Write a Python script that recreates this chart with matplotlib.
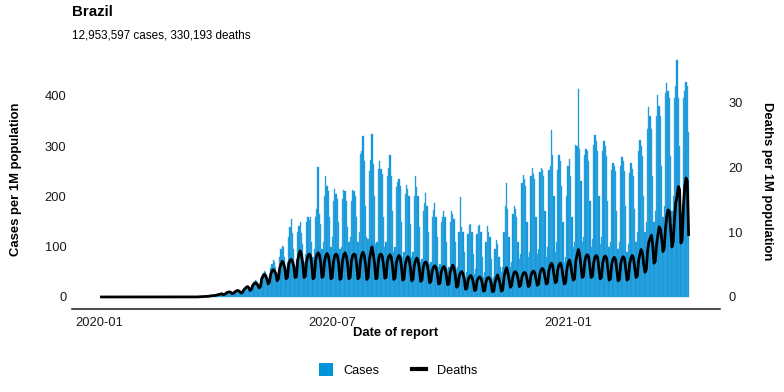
import matplotlib
matplotlib.use("Agg")
import matplotlib.pyplot as plt
import matplotlib.dates as mdates
from matplotlib.patches import Patch
from matplotlib.lines import Line2D
import pandas as pd

plt.rcParams['font.family'] = ['Liberation Sans', 'DejaVu Sans']

# daily values per 1M population, 2020-01-03 .. 2021-04-05
start_date = '2020-01-03'
lead_zeros = 60  # 2020-01-03 .. 2020-03-02

# one row per week (from 2020-03-03)
cases_weeks = [
    0, 0, 0, 0, 0.01, 0.01, 0.02,
    0.02, 0.05, 0.1, 0.15, 0.2, 0.3, 0.4,
    0.3, 0.5, 0.8, 1.0, 1.3, 1.5, 1.2,
    1.1, 1.0, 1.6, 1.9, 2.2, 2.4, 2.0,
    1.5, 1.6, 3.8, 4.5, 5.2, 5.0, 4.3,
    3.0, 3.5, 6.0, 7.5, 8.4, 7.0, 5.5,
    4.8, 5.5, 9.0, 12, 14, 11.5, 9.0,
    7, 8, 14, 16.5, 19, 16, 14,
    11, 14, 24, 30, 34, 32, 26,
    20, 22, 40, 46, 52, 50, 44,
    30, 35, 58, 66, 73, 70, 60,
    38, 52, 80, 96, 102, 100, 80,
    55, 70, 120, 140, 156, 128, 95,
    60, 75, 130, 141, 150, 128, 105,
    70, 85, 150, 160, 154, 160, 110,
    80, 95, 160, 175, 258, 165, 145,
    95, 110, 200, 240, 220, 210, 160,
    100, 120, 190, 215, 205, 195, 150,
    95, 100, 195, 213, 210, 190, 140,
    110, 120, 190, 213, 210, 200, 160,
    110, 130, 285, 290, 320, 270, 180,
    120, 115, 250, 273, 324, 265, 200,
    105, 110, 255, 270, 255, 245, 160,
    100, 110, 240, 257, 282, 240, 170,
    90, 100, 218, 228, 235, 220, 150,
    80, 90, 205, 222, 215, 200, 145,
    80, 90, 200, 241, 219, 200, 140,
    70, 75, 170, 186, 206, 180, 130,
    65, 70, 160, 173, 186, 160, 120,
    60, 65, 150, 160, 170, 160, 110,
    55, 60, 150, 170, 165, 155, 110,
    55, 60, 130, 198, 140, 130, 90,
    40, 50, 125, 143, 145, 130, 85,
    45, 55, 125, 141, 143, 130, 80,
    40, 50, 110, 141, 130, 120, 75,
    35, 40, 95, 113, 105, 80, 60,
    50, 60, 130, 180, 227, 175, 120,
    60, 70, 166, 180, 175, 160, 110,
    75, 85, 226, 243, 235, 220, 150,
    80, 90, 240, 256, 245, 235, 160,
    85, 95, 249, 256, 252, 240, 170,
    80, 100, 252, 260, 332, 282, 200,
    90, 110, 252, 282, 270, 220, 150,
    70, 80, 200, 260, 275, 240, 160,
    100, 110, 302, 300, 413, 295, 230,
    110, 120, 282, 295, 290, 270, 190,
    100, 115, 302, 322, 310, 290, 200,
    105, 120, 290, 310, 300, 280, 190,
    100, 110, 253, 266, 260, 250, 170,
    95, 110, 260, 279, 270, 250, 180,
    90, 105, 246, 266, 255, 240, 175,
    110, 130, 290, 312, 300, 280, 200,
    130, 150, 335, 378, 360, 335, 240,
    150, 170, 360, 402, 380, 360, 260,
    160, 180, 405, 425, 410, 395, 280,
    170, 200, 395, 420, 471, 395, 300,
    160, 170, 395, 410, 428, 420, 329,
]

deaths_weeks = [
    0, 0, 0, 0, 0, 0, 0,
    0, 0, 0, 0, 0, 0, 0.005,
    0.005, 0.01, 0.02, 0.03, 0.04, 0.05, 0.07,
    0.06, 0.08, 0.1, 0.12, 0.15, 0.2, 0.22,
    0.2, 0.25, 0.3, 0.35, 0.4, 0.45, 0.5,
    0.35, 0.4, 0.55, 0.7, 0.75, 0.8, 0.7,
    0.5, 0.55, 0.8, 0.9, 1.0, 0.95, 0.8,
    0.6, 0.7, 1.1, 1.3, 1.5, 1.6, 1.4,
    1.0, 1.2, 1.8, 2.0, 2.2, 2.1, 1.8,
    1.4, 1.6, 2.8, 3.2, 3.5, 3.3, 2.8,
    2.0, 2.3, 3.5, 4.0, 4.2, 4.0, 3.6,
    2.5, 2.8, 4.4, 5.0, 5.5, 5.2, 4.5,
    2.8, 3.0, 5.0, 5.6, 5.8, 5.5, 4.8,
    3.0, 3.1, 5.5, 6.5, 7.1, 6.5, 5.2,
    3.0, 3.2, 5.5, 6.3, 6.6, 6.4, 5.0,
    2.8, 3.0, 5.6, 6.5, 6.8, 6.5, 5.3,
    3.0, 3.2, 5.5, 6.4, 6.7, 6.3, 5.0,
    2.8, 3.0, 5.4, 6.4, 6.6, 6.4, 5.2,
    2.7, 2.9, 5.5, 6.5, 6.8, 6.3, 5.0,
    2.8, 3.0, 5.6, 6.4, 6.6, 6.5, 5.1,
    2.8, 3.0, 5.5, 6.5, 6.9, 6.4, 5.0,
    2.7, 3.0, 5.8, 6.8, 7.7, 6.6, 5.2,
    2.8, 2.9, 5.5, 6.5, 6.6, 6.3, 5.0,
    2.9, 3.0, 5.4, 6.2, 6.5, 6.2, 4.8,
    2.7, 2.9, 5.2, 6.0, 6.4, 6.1, 4.7,
    2.6, 2.8, 5.0, 5.8, 6.2, 5.8, 4.5,
    2.5, 2.7, 4.8, 5.6, 6.0, 5.6, 4.3,
    2.4, 2.6, 4.5, 5.2, 5.4, 5.0, 4.0,
    2.2, 2.4, 4.0, 4.6, 4.8, 4.5, 3.6,
    2.0, 2.1, 3.8, 4.4, 4.7, 4.4, 3.4,
    1.9, 2.0, 3.8, 4.4, 4.9, 4.5, 3.4,
    1.5, 1.7, 3.2, 3.7, 3.9, 3.6, 2.8,
    1.2, 1.3, 2.6, 3.1, 3.3, 3.0, 2.3,
    1.0, 1.1, 2.5, 2.9, 3.1, 2.9, 2.2,
    0.9, 1.0, 2.4, 2.9, 3.0, 2.8, 2.1,
    0.8, 0.9, 2.2, 2.9, 3.4, 2.8, 2.0,
    0.9, 1.1, 3.0, 4.0, 4.5, 3.8, 2.6,
    1.5, 1.8, 3.2, 3.8, 3.9, 3.6, 2.8,
    1.6, 1.8, 3.1, 3.6, 3.8, 3.6, 2.7,
    1.6, 1.8, 3.3, 3.8, 4.0, 3.7, 2.8,
    1.8, 2.0, 3.6, 4.2, 4.4, 4.1, 3.0,
    2.0, 2.2, 4.0, 4.8, 5.2, 4.8, 3.4,
    2.2, 2.4, 4.3, 5.0, 5.2, 4.6, 3.2,
    2.0, 2.2, 4.2, 5.2, 5.7, 5.0, 3.6,
    2.6, 2.8, 5.5, 6.5, 7.3, 6.6, 4.8,
    3.0, 3.2, 5.4, 6.3, 6.5, 6.2, 4.6,
    3.0, 3.2, 5.3, 6.2, 6.4, 6.1, 4.5,
    2.8, 3.0, 5.2, 6.1, 6.3, 6.0, 4.4,
    2.6, 2.8, 5.0, 5.8, 6.1, 5.8, 4.2,
    2.5, 2.7, 5.0, 5.9, 6.2, 5.9, 4.3,
    2.6, 2.8, 5.1, 6.0, 6.4, 6.0, 4.5,
    3.0, 3.3, 5.6, 6.6, 7.3, 6.8, 5.0,
    3.8, 4.2, 7.0, 8.5, 9.0, 9.5, 8.0,
    5.2, 5.5, 8.0, 9.5, 10.8, 10.5, 9.0,
    7.0, 7.5, 10.5, 12.5, 13.4, 13.2, 10.5,
    7.7, 8.5, 12.0, 14.5, 15.5, 17.0, 16.5,
    8.3, 8.8, 14.0, 17.0, 18.3, 17.8, 9.6,
]

cases = [0.0] * lead_zeros + cases_weeks
deaths = [0.0] * lead_zeros + deaths_weeks
dates = pd.date_range(start_date, periods=len(cases), freq='D')

tick_dates = pd.to_datetime(['2020-01-01', '2020-07-01', '2021-01-01'])
case_ticks = [0, 100, 200, 300, 400]
death_ticks = [0, 10, 20, 30]

bar_color = '#0a95d9'
W, H = 784, 392

fig = plt.figure(figsize=(W / 100, H / 100), dpi=100)
ax = fig.add_axes([72 / W, 1 - 308.8 / H, (720 - 72) / W, (308.8 - 48.3) / H])
ax.bar(dates, cases, width=1.0, color=bar_color, linewidth=0.3, edgecolor='#45aadf')

ax2 = ax.twinx()
ax2.plot(dates, deaths, color='black', lw=2.0, solid_joinstyle='round')

ylo, yhi = -23.5, 494.5
ratio = 12.92
ax.set_ylim(ylo, yhi)
ax2.set_ylim(ylo / ratio, yhi / ratio)
ax.set_xlim(dates[0] - pd.Timedelta(days=23), dates[-1] + pd.Timedelta(days=24.5))

ax.set_xticks(tick_dates)
ax.xaxis.set_major_formatter(mdates.DateFormatter('%Y-%m'))
ax.set_yticks(case_ticks)
ax2.set_yticks(death_ticks)

for a in (ax, ax2):
    for s in a.spines.values():
        s.set_visible(False)
ax.spines['bottom'].set_visible(True)
ax.spines['bottom'].set_linewidth(1.1)
ax.spines['bottom'].set_color('#1a1a1a')

ax.tick_params(axis='x', length=0, pad=6, labelsize=9.3, colors='#1a1a1a')
ax.tick_params(axis='y', length=0, pad=4, labelsize=9.3, colors='#1a1a1a')
ax2.tick_params(axis='y', length=0, pad=6, labelsize=9.3, colors='#1a1a1a')

fig.text(72 / W, 1 - 12 / H, 'Brazil', fontsize=10.8, fontweight='bold', va='center', ha='left')
fig.text(72 / W, 1 - 36 / H, '12,953,597 cases, 330,193 deaths', fontsize=8.4, va='center', ha='left')
fig.text(396 / W, 1 - 333 / H, 'Date of report', fontsize=9.4, fontweight='bold', ha='center', va='center')
fig.text(16 / W, 1 - 179 / H, 'Cases per 1M population', fontsize=9.4, fontweight='bold',
         rotation=90, ha='center', va='center')
fig.text(767 / W, 1 - 181 / H, 'Deaths per 1M population', fontsize=9.4, fontweight='bold',
         rotation=270, ha='center', va='center')

handles = [Patch(facecolor='#0094da', edgecolor='none', label='Cases'),
           Line2D([0], [0], color='black', lw=3, label='Deaths')]
fig.legend(handles=handles, loc='center', bbox_to_anchor=(398 / W, 1 - 370 / H), ncol=2,
           frameon=False, fontsize=9.2, handlelength=1.1, handleheight=1.1,
           handletextpad=0.8, columnspacing=2.6)

fig.savefig('out.png', dpi=100)
plt.close(fig)
